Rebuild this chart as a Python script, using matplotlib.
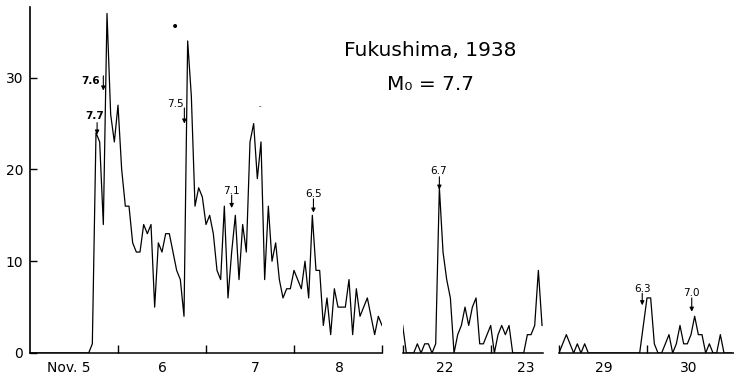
import numpy as np
import matplotlib
matplotlib.use("Agg")
import matplotlib.pyplot as plt

# hourly aftershock counts, hour 0 = 00h of the first day in each panel
nov5_8 = [0, 0, 0, 0, 0, 0, 0, 0, 0, 0, 0, 0, 0, 0, 0, 0, 0,
          1, 24, 23, 14, 37, 26, 23, 27, 20, 16, 16, 12, 11, 11, 14, 13, 14,
          5, 12, 11, 13, 13, 11, 9, 8, 4, 34, 28, 16, 18, 17, 14, 15, 13,
          9, 8, 16, 6, 11, 15, 8, 14, 11, 23, 25, 19, 23, 8, 16, 10, 12,
          8, 6, 7, 7, 9, 8, 7, 10, 6, 15, 9, 9, 3, 6, 2, 7, 5, 5, 5, 8,
          2, 7, 4, 5, 6, 4, 2, 4, 3]
nov22_23 = [3, 0, 0, 0, 1, 0, 1, 1, 0, 1, 18, 11, 8, 6, 0, 2, 3, 5, 3, 5,
            6, 1, 1, 2, 3, 0, 2, 3, 2, 3, 0, 0, 0, 0, 2, 2, 3, 9, 3]
nov29_30 = [0, 1, 2, 1, 0, 1, 0, 1, 0, 0, 0, 0, 0, 0, 0, 0, 0, 0, 0, 0,
            0, 0, 0, 3, 6, 6, 1, 0, 0, 1, 2, 0, 1, 3, 1, 1, 2, 4, 2, 2,
            0, 1, 0, 0, 2, 0, 0, 0]

day_labels = [["Nov. 5", "6", "7", "8"], ["22", "23"], ["29", "30"]]
day_label_hours = [[10.5, 36.2, 61.3, 84.3], [11.5, 33.6], [12.3, 35.5]]
day_edges = [[24, 48, 72, 96], [0, 24], [0, 24]]

# magnitude of the large shocks: (panel, label)
shocks = [(0, "7.7"), (0, "7.6"), (0, "7.5"), (0, "7.1"), (0, "6.5"),
          (1, "6.7"), (2, "6.3"), (2, "7.0")]
# where the label sits and where its arrow runs (hour, text y, arrow x, arrow top, arrow tip)
shock_pos = [(17.5, 25.8, 18.3, 25.1, 23.8),
             (16.4, 29.6, 20.0, 30.2, 28.6),
             (39.7, 27.1, 42.1, 26.7, 25.0),
             (54.8, 17.7, 55.0, 17.2, 15.8),
             (77.4, 17.3, 77.3, 16.8, 15.3),
             (9.7, 19.8, 10.0, 19.2, 17.8),
             (22.8, 7.0, 22.7, 6.5, 5.2),
             (36.2, 6.5, 36.2, 6.0, 4.5)]

W, H = 734, 376
pph = 88 / 24.0
fig = plt.figure(figsize=(W / 100, H / 100), dpi=100)

base = 353
top = 7
hgt = (base - top) / H
lefts = [30, 402.7, 559]
spans = [96, 38.2, (W - 559) / pph]

axes = []
for i, series in enumerate([nov5_8, nov22_23, nov29_30]):
    ax = fig.add_axes([lefts[i] / W, (H - base) / H, spans[i] * pph / W, hgt])
    hours = np.arange(len(series))
    ax.plot(hours, series, color='black', lw=0.9)
    ax.set_xlim(0, spans[i])
    ax.set_ylim(0, 37.7)
    for s in ['top', 'right']:
        ax.spines[s].set_visible(False)
    ax.spines['bottom'].set_linewidth(1.1)
    ax.set_xticks(day_label_hours[i])
    ax.set_xticklabels(day_labels[i], fontsize=10)
    ax.tick_params(axis='x', which='major', length=0, pad=6)
    ax.set_xticks(day_edges[i], minor=True)
    ax.tick_params(axis='x', which='minor', direction='in', length=6, width=1)
    if i == 0:
        ax.spines['left'].set_linewidth(1.2)
        ax.set_yticks([0, 10, 20, 30])
        ax.tick_params(axis='y', direction='in', length=5, width=1,
                       labelsize=10, pad=5)
    else:
        ax.spines['left'].set_visible(False)
        ax.set_yticks([])
    ax.patch.set_alpha(0)
    axes.append(ax)

for (p, lab), (tx, ty, ax_x, a0, a1) in zip(shocks, shock_pos):
    ax = axes[p]
    bold = lab in ("7.7", "7.6")
    ax.text(tx, ty, lab, fontsize=7.5, ha='center', va='center',
            fontweight='bold' if bold else 'normal')
    ax.annotate('', xy=(ax_x, a1), xytext=(ax_x, a0),
                arrowprops=dict(arrowstyle='-|>', color='black', lw=0.8,
                                mutation_scale=6, shrinkA=0, shrinkB=0))

# specks on the original sheet
axes[0].text(39.5, 35.5, '•', fontsize=10, ha='center', va='center')
axes[0].text(62.7, 26.9, '-', fontsize=5, ha='center', va='center')

fig.text(430 / W, 1 - 50 / H, "Fukushima, 1938", fontsize=14.5,
         ha='center', va='center')
fig.text(431 / W, 1 - 85 / H, "M₀ = 7.7", fontsize=14.5,
         ha='center', va='center')

fig.savefig("out.png", dpi=100)
